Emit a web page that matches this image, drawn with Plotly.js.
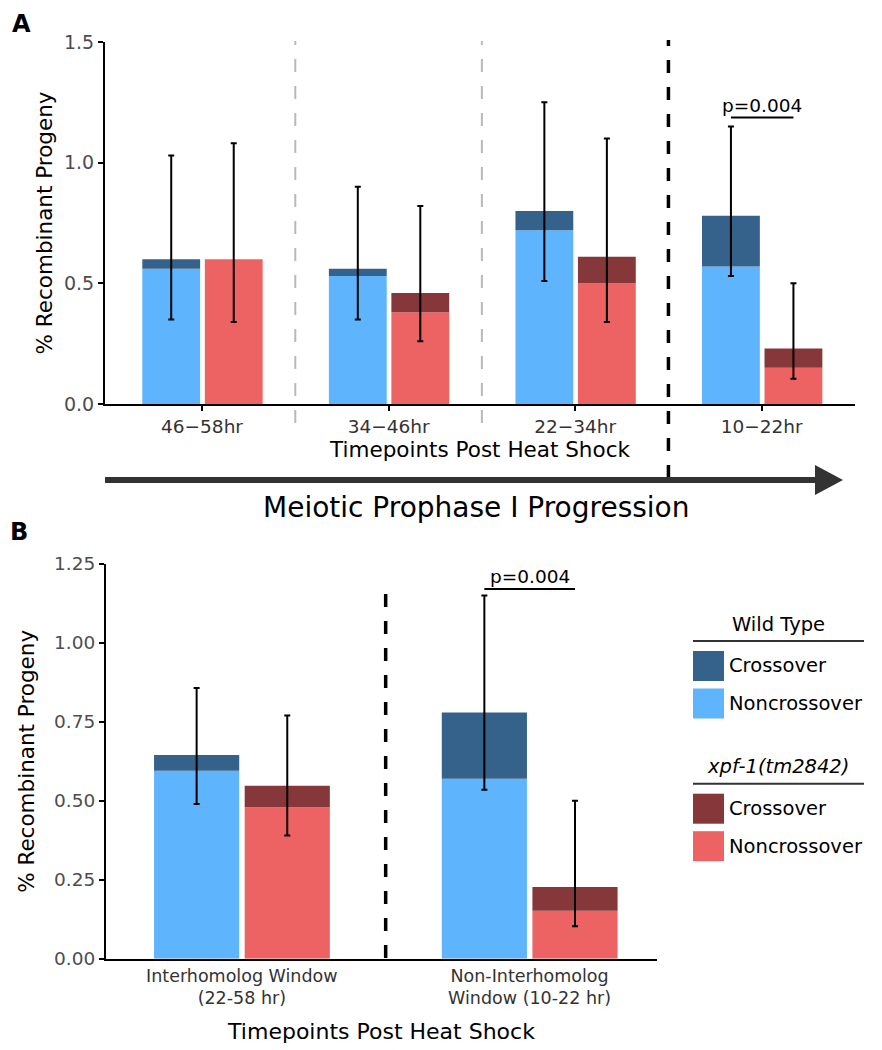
<!DOCTYPE html>
<html>
<head>
<meta charset="utf-8">
<script src="https://cdn.plot.ly/plotly-3.0.1.min.js"></script>
<style>
  body { margin: 0; background: #fff; }
  #chart { width: 882px; height: 1050px; }
</style>
</head>
<body>
<div id="chart"></div>
<script>
// panel A data (timepoints post heat shock)
const catsA = ["46\u221258hr", "34\u221246hr", "22\u221234hr", "10\u221222hr"]
const wtNcoA = [0.56, 0.53, 0.72, 0.57]
const wtCoA = [0.04, 0.03, 0.08, 0.21]
const wtHiA = [1.03, 0.90, 1.25, 1.15]
const wtLoA = [0.35, 0.35, 0.51, 0.53]
const xpfNcoA = [0.60, 0.38, 0.50, 0.15]
const xpfCoA = [0.00, 0.08, 0.11, 0.08]
const xpfHiA = [1.08, 0.82, 1.10, 0.50]
const xpfLoA = [0.34, 0.26, 0.34, 0.105]

// panel B data (pooled windows)
const catsB = ["Interhomolog Window<br>(22-58 hr)", "Non-Interhomolog<br>Window (10-22 hr)"]
const wtNcoB = [0.595, 0.57]
const wtCoB = [0.05, 0.21]
const wtHiB = [0.857, 1.15]
const wtLoB = [0.49, 0.535]
const xpfNcoB = [0.48, 0.152]
const xpfCoB = [0.068, 0.075]
const xpfHiB = [0.77, 0.50]
const xpfLoB = [0.39, 0.103]

const legendGroups = ["Wild Type", "<i>xpf-1(tm2842)</i>"]
const legendItems = ["Crossover", "Noncrossover"]

const colores = {
  wtCo: "#34628b",
  wtNco: "#5fb5fd",
  xpfCo: "#853739",
  xpfNco: "#ed6263",
}

const FONT = "DejaVu Sans"
const W = 882, H = 1050
const px = (x) => x / W
const py = (y) => 1 - y / H

const suma = (a, b) => a.map((v, i) => v + b[i])

// barra apilada: no-crossover abajo, crossover arriba con barra de error
function barras(cats, nco, co, hi, lo, colNco, colCo, offset, width, xa, ya) {
  const total = suma(nco, co)
  return [
    {
      type: "bar", x: cats, y: nco, base: nco.map(() => 0),
      offset: offset, width: width, xaxis: xa, yaxis: ya,
      marker: { color: colNco, line: { width: 0 } },
      showlegend: false, hoverinfo: "skip",
    },
    {
      type: "bar", x: cats, y: co, base: nco,
      offset: offset, width: width, xaxis: xa, yaxis: ya,
      marker: { color: colCo, line: { width: 0 } },
      error_y: {
        type: "data", symmetric: false,
        array: hi.map((v, i) => v - total[i]),
        arrayminus: lo.map((v, i) => total[i] - v),
        color: "#000", thickness: 2, width: 3,
      },
      showlegend: false, hoverinfo: "skip",
    },
  ]
}

const offA = [-0.32, 0.015], widA = 0.31
const offB = [-0.305, 0.01], widB = 0.296

const data = [
  ...barras(catsA, wtNcoA, wtCoA, wtHiA, wtLoA, colores.wtNco, colores.wtCo, offA[0], widA, "x", "y"),
  ...barras(catsA, xpfNcoA, xpfCoA, xpfHiA, xpfLoA, colores.xpfNco, colores.xpfCo, offA[1], widA, "x", "y"),
  ...barras(catsB, wtNcoB, wtCoB, wtHiB, wtLoB, colores.wtNco, colores.wtCo, offB[0], widB, "x2", "y2"),
  ...barras(catsB, xpfNcoB, xpfCoB, xpfHiB, xpfLoB, colores.xpfNco, colores.xpfCo, offB[1], widB, "x2", "y2"),
]

const ejeBase = {
  showgrid: false, zeroline: false, showline: true,
  linecolor: "#000", linewidth: 2,
  ticks: "outside", ticklen: 5, tickwidth: 2, tickcolor: "#000",
  fixedrange: true,
}

const layout = {
  width: W, height: H,
  margin: { l: 0, r: 0, t: 0, b: 0 },
  paper_bgcolor: "#fff", plot_bgcolor: "#fff",
  barmode: "overlay",
  showlegend: false,
  font: { family: FONT, color: "#000" },
  xaxis: {
    ...ejeBase, anchor: "y",
    domain: [px(105), px(855)], range: [-0.52, 3.5],
    type: "category", categoryarray: catsA,
    tickfont: { family: FONT, size: 18.5, color: "#333" },
    ticklabelstandoff: 0,
    title: { text: "Timepoints Post Heat Shock", font: { family: FONT, size: 21.5, color: "#000" }, standoff: 2 },
  },
  yaxis: {
    ...ejeBase, anchor: "x",
    domain: [py(404), py(42)], range: [0, 1.5], dtick: 0.5, tickformat: ".1f",
    tickfont: { family: FONT, size: 19, color: "#4d4d4d" },
    title: { text: "% Recombinant Progeny", font: { family: FONT, size: 21.5, color: "#000" }, standoff: 5 },
  },
  xaxis2: {
    ...ejeBase, anchor: "y2", ticks: "",
    domain: [px(106), px(657)], range: [-0.472, 1.443],
    type: "category", categoryarray: catsB,
    tickfont: { family: FONT, size: 17.5, color: "#333" },
    title: { text: "Timepoints Post Heat Shock", font: { family: FONT, size: 22, color: "#000" }, standoff: 16 },
  },
  yaxis2: {
    ...ejeBase, anchor: "x2",
    domain: [py(958.7), py(564)], range: [0, 1.25], dtick: 0.25, tickformat: ".2f",
    tickfont: { family: FONT, size: 18.5, color: "#4d4d4d" },
    title: { text: "% Recombinant Progeny", font: { family: FONT, size: 21.5, color: "#000" }, standoff: 14 },
  },
  shapes: [],
  annotations: [],
}

const S = layout.shapes, A = layout.annotations

// separadores entre ventanas
;[0.5, 1.5].forEach((xv) => {
  S.push({ type: "line", xref: "x", yref: "paper", x0: xv, x1: xv, y0: py(423), y1: py(41),
    line: { color: "#b8b8b8", width: 2, dash: "13px,14px" } })
})
S.push({ type: "line", xref: "x", yref: "paper", x0: 2.5, x1: 2.5, y0: py(478), y1: py(40),
  line: { color: "#000", width: 3.5, dash: "13px,14px" } })
S.push({ type: "line", xref: "x2", yref: "paper", x0: 0.5, x1: 0.5, y0: py(958), y1: py(593),
  line: { color: "#000", width: 3.5, dash: "13px,14px" } })

// significancia p=0.004 (linea entre centros de barras)
const centro = (off, w) => off + w / 2
function pValor(xa, ya, idx, offs, w, yLinea, yTexto) {
  S.push({ type: "line", xref: xa, yref: ya,
    x0: idx + centro(offs[0], w), x1: idx + centro(offs[1], w),
    y0: yLinea, y1: yLinea, line: { color: "#000", width: 2 } })
  A.push({ xref: xa, yref: ya, x: idx, y: yTexto, text: "p=0.004", showarrow: false,
    xanchor: "center", yanchor: "middle", font: { family: FONT, size: 18.5, color: "#000" } })
}
pValor("x", "y", 3, offA, widA, 1.187, 1.235)
pValor("x2", "y2", 1, offB, widB, 1.171, 1.212)

// flecha de progresion
S.push({ type: "line", xref: "paper", yref: "paper", x0: px(105), x1: px(818), y0: py(480), y1: py(480),
  line: { color: "#333", width: 6 } })
S.push({ type: "path", xref: "paper", yref: "paper",
  path: `M ${px(815)} ${py(465)} L ${px(843)} ${py(480)} L ${px(815)} ${py(495)} Z`,
  fillcolor: "#333", line: { width: 0 } })
A.push({ xref: "paper", yref: "paper", x: px(476), y: py(507), text: "Meiotic Prophase I Progression",
  showarrow: false, xanchor: "center", yanchor: "middle", font: { family: FONT, size: 28, color: "#000" } })

// letras de panel
A.push({ xref: "paper", yref: "paper", x: px(10), y: py(24.5), text: "<b>A</b>", showarrow: false,
  xanchor: "left", yanchor: "middle", font: { family: FONT, size: 24, color: "#000" } })
A.push({ xref: "paper", yref: "paper", x: px(8), y: py(532), text: "<b>B</b>", showarrow: false,
  xanchor: "left", yanchor: "middle", font: { family: FONT, size: 24, color: "#000" } })

// leyenda manual
const legColors = [[colores.wtCo, colores.wtNco], [colores.xpfCo, colores.xpfNco]]
const legTop = [624, 766.7]
legendGroups.forEach((g, gi) => {
  const t = legTop[gi]
  A.push({ xref: "paper", yref: "paper", x: px(778), y: py(t), text: g, showarrow: false,
    xanchor: "center", yanchor: "middle", font: { family: FONT, size: 19.5, color: "#000" } })
  S.push({ type: "line", xref: "paper", yref: "paper", x0: px(693), x1: px(864), y0: py(t + 17), y1: py(t + 17),
    line: { color: "#333", width: 2 } })
  legendItems.forEach((it, ii) => {
    const y0 = t + 27 + ii * 37.5
    S.push({ type: "rect", xref: "paper", yref: "paper", x0: px(693), x1: px(724), y0: py(y0), y1: py(y0 + 30),
      fillcolor: legColors[gi][ii], line: { width: 0 } })
    A.push({ xref: "paper", yref: "paper", x: px(727), y: py(y0 + 15), text: it, showarrow: false,
      xanchor: "left", yanchor: "middle", font: { family: FONT, size: 19.5, color: "#000" } })
  })
})

Plotly.newPlot("chart", data, layout, { staticPlot: true, displayModeBar: false })
</script>
</body>
</html>
